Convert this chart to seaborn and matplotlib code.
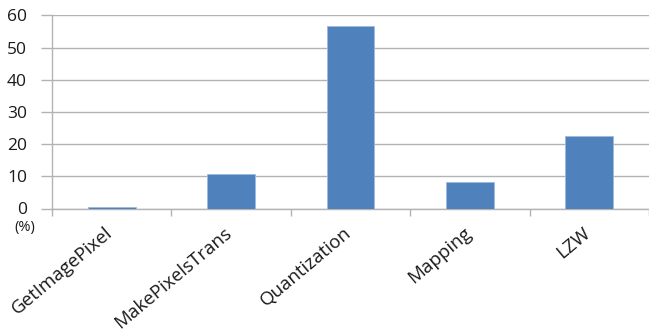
import matplotlib
matplotlib.use("Agg")
import matplotlib.pyplot as plt
import matplotlib.transforms as mtrans
import seaborn as sns
import pandas as pd

categories = ["GetImagePixel", "MakePixelsTrans", "Quantization", "Mapping", "LZW"]
values = [0.5, 10.7, 56.6, 8.3, 22.5]
yticks = [0, 10, 20, 30, 40, 50, 60]

df = pd.DataFrame({"cat": categories, "val": values})

sns.set_theme(style="white")
plt.rcParams["font.family"] = ["Open Sans", "DejaVu Sans"]

fig = plt.figure(figsize=(6.49, 3.35), dpi=100)
ax = fig.add_axes([52/649, 1 - 208.5/335, 597/649, (208.5 - 15.3)/335])

sns.barplot(data=df, x="cat", y="val", color="#4F81BD", width=0.4, ax=ax,
            saturation=1, edgecolor="#9dbbe0", linewidth=0.6, zorder=3)

ax.set_ylim(0, 60)
ax.set_xlim(-0.5, 4.5)
ax.set_yticks(yticks)
ax.set_yticklabels([str(v) for v in yticks], fontsize=12.5, color="#1a1a1a")
ax.yaxis.grid(True, color="#b3b3b3", linewidth=1.0, zorder=0)
ax.set_axisbelow(True)
for s in ["top", "right"]:
    ax.spines[s].set_visible(False)
ax.spines["left"].set_color("#b3b3b3")
ax.spines["bottom"].set_color("#b3b3b3")
ax.spines["left"].set_linewidth(1.0)
ax.spines["bottom"].set_linewidth(1.0)
ax.tick_params(axis="y", which="major", length=8, color="#b3b3b3", width=1.0, pad=10, left=True)

ax.set_xticks(range(len(categories)))
ax.set_xticklabels(categories, rotation=40, ha="right", va="top", rotation_mode="anchor",
                   fontsize=13.5, color="#1a1a1a")
ax.tick_params(axis="x", which="major", length=0, pad=11)
ax.set_xticks([i - 0.5 for i in range(len(categories) + 1)], minor=True)
ax.tick_params(axis="x", which="minor", length=5, color="#b3b3b3", width=1.0, bottom=True)
offset = mtrans.ScaledTranslation(-7/100, 0, fig.dpi_scale_trans)
for lbl in ax.get_xticklabels():
    lbl.set_transform(lbl.get_transform() + offset)

ax.set_xlabel("")
ax.set_ylabel("")
fig.text(25/649, 1 - 227/335, "(%)", fontsize=10.5, color="#1a1a1a", ha="center", va="center")

fig.savefig("out.png", dpi=100)
